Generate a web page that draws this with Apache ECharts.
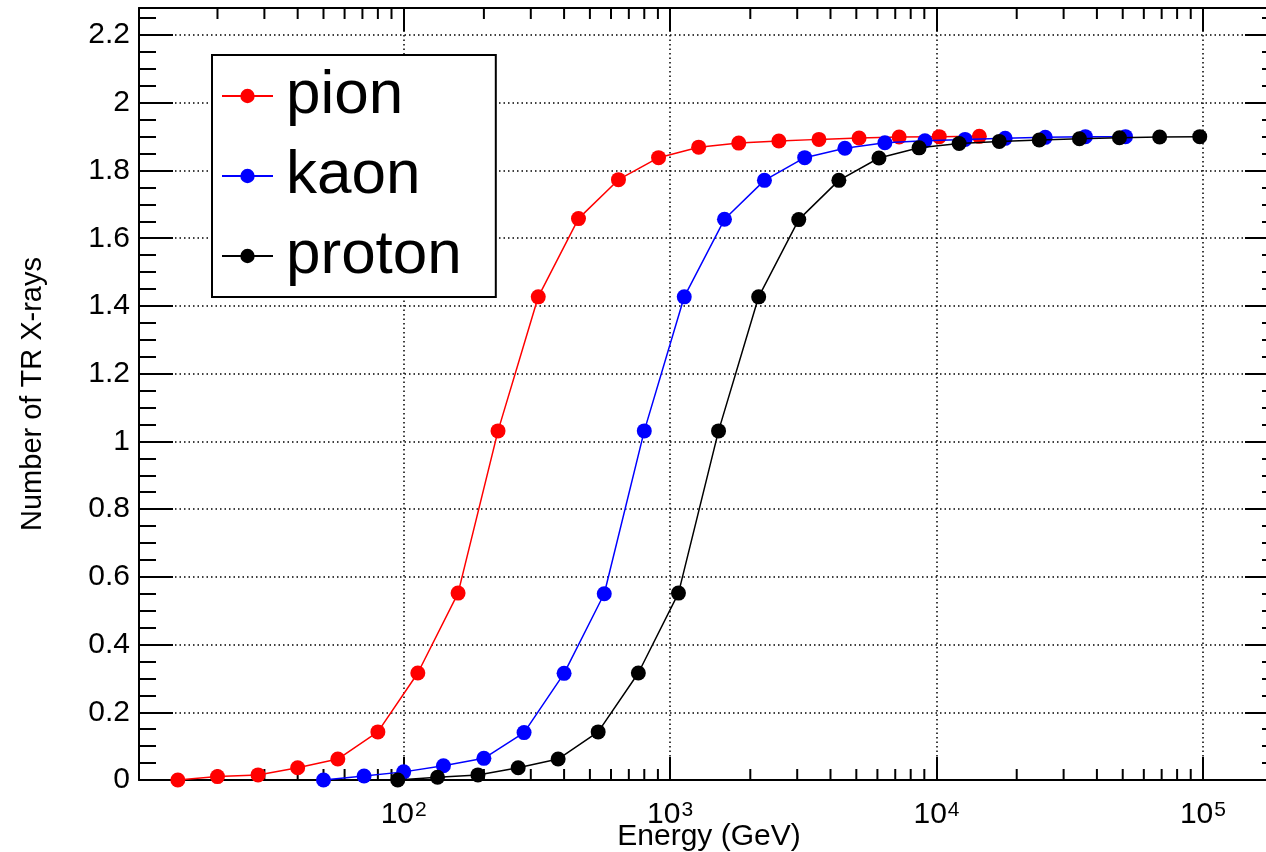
<!DOCTYPE html>
<html><head><meta charset="utf-8">
<script src="https://cdn.jsdelivr.net/npm/echarts@6/dist/echarts.min.js"></script>
<style>html,body{margin:0;padding:0;background:#fff}#c{width:1266px;height:852px}</style>
</head><body><div id="c"></div>
<script>
// ---- data ----
const seriesNames = ['pion', 'kaon', 'proton'];
const pionE = [14.2, 20, 28.4, 40, 56.6, 80, 113, 160, 226, 320, 453, 640, 905, 1280, 1810, 2560, 3620, 5120, 7240, 10240, 14480];
const pionY = [0, 0.01, 0.015, 0.036, 0.062, 0.142, 0.316, 0.552, 1.031, 1.427, 1.658, 1.773, 1.838, 1.869, 1.881, 1.887, 1.892, 1.896, 1.899, 1.900, 1.901];
const kaonE = [50, 71, 100, 141, 200, 283, 400, 566, 800, 1130, 1600, 2260, 3200, 4530, 6400, 9050, 12800, 18100, 25600, 36200, 51200];
const kaonY = [0, 0.012, 0.024, 0.042, 0.064, 0.14, 0.315, 0.55, 1.031, 1.427, 1.656, 1.771, 1.838, 1.866, 1.882, 1.888, 1.892, 1.895, 1.898, 1.9, 1.9];
const protonE = [95, 134, 190, 269, 380, 537, 760, 1075, 1520, 2150, 3040, 4300, 6080, 8600, 12160, 17200, 24300, 34400, 48600, 68800, 97300];
const protonY = [0, 0.008, 0.015, 0.036, 0.062, 0.142, 0.316, 0.552, 1.031, 1.427, 1.655, 1.771, 1.837, 1.867, 1.88, 1.886, 1.89, 1.894, 1.897, 1.899, 1.9];
const xMinorTicks = [20, 30, 40, 50, 60, 70, 80, 90, 200, 300, 400, 500, 600, 700, 800, 900,
  2000, 3000, 4000, 5000, 6000, 7000, 8000, 9000, 20000, 30000, 40000, 50000, 60000, 70000, 80000, 90000];
const X_MIN = 10.15, X_MAX = 193000;
const Y_MIN = 0, Y_MAX = 2.28, Y_STEP = 0.2;

const FONT = 'Liberation Sans, Arial, Helvetica, sans-serif';
const colors = ['#ff0000', '#0000ff', '#000000'];

function pairs(xs, ys) { return xs.map((x, i) => [x, ys[i]]); }

const chart = echarts.init(document.getElementById('c'), null, {renderer: 'canvas'});

function xLabel(v) {
  const l = Math.log10(v), r = Math.round(l);
  if (Math.abs(l - r) > 1e-6) return '';
  return '{b|10}{s|' + r + '}';
}
function yLabel(v) {
  if (Math.abs(v - Y_MAX) < 1e-9) return '';
  return String(+v.toFixed(2));
}

const lineSeries = [pairs(pionE, pionY), pairs(kaonE, kaonY), pairs(protonE, protonY)].map((d, i) => ({
  name: seriesNames[i],
  type: 'line',
  data: d,
  xAxisIndex: 0, yAxisIndex: 0,
  symbol: 'circle', symbolSize: 15,
  showAllSymbol: true,
  color: colors[i],
  lineStyle: {color: colors[i], width: 1.5},
  itemStyle: {color: colors[i]},
  z: 3 + i
}));

const option = {
  animation: false,
  backgroundColor: '#fff',
  grid: {left: 139, right: -13, top: 8, bottom: 72, containLabel: false, outerBoundsMode: 'none'},
  legend: {
    data: seriesNames,
    orient: 'vertical',
    left: 212, top: 55,
    padding: [1, 34, 1, 9],
    itemGap: 0,
    itemWidth: 51, itemHeight: 18,
    borderColor: '#000', borderWidth: 2,
    backgroundColor: '#fff',
    textStyle: {fontFamily: FONT, fontSize: 62, color: '#000', lineHeight: 80, padding: [0, 0, 0, 8]},
    z: 10
  },
  xAxis: [{
    type: 'log', min: X_MIN, max: X_MAX, position: 'bottom',
    name: 'Energy (GeV)', nameLocation: 'middle', nameGap: 42, nameMoveOverlap: false,
    nameTextStyle: {fontFamily: FONT, fontSize: 30, color: '#000'},
    axisLine: {show: true, onZero: false, lineStyle: {color: '#000', width: 2}},
    axisTick: {show: true, inside: true, length: 23, lineStyle: {color: '#000', width: 2}},
    axisLabel: {
      formatter: xLabel, margin: 20, color: '#000',
      rich: {
        b: {fontFamily: FONT, fontSize: 30, color: '#000'},
        s: {fontFamily: FONT, fontSize: 21, color: '#000', verticalAlign: 'top', padding: [0, 0, 0, 1]}
      }
    },
    splitLine: {show: true, lineStyle: {color: '#000', width: 1.5, type: [1.5, 3]}}
  }, {
    type: 'log', min: X_MIN, max: X_MAX, position: 'top',
    axisLine: {show: true, onZero: false, lineStyle: {color: '#000', width: 2}},
    axisTick: {show: true, inside: true, length: 23, lineStyle: {color: '#000', width: 2}},
    axisLabel: {show: false},
    splitLine: {show: false}
  }],
  yAxis: [{
    type: 'value', min: Y_MIN, max: Y_MAX, interval: Y_STEP, position: 'left',
    name: 'Number of TR X-rays', nameLocation: 'middle', nameGap: 92, nameRotate: 90, nameMoveOverlap: false,
    nameTextStyle: {fontFamily: FONT, fontSize: 29, color: '#000'},
    axisLine: {show: true, onZero: false, lineStyle: {color: '#000', width: 2}},
    axisTick: {show: true, inside: true, length: 34, lineStyle: {color: '#000', width: 2}},
    minorTick: {show: true, splitNumber: 4, length: 17, lineStyle: {color: '#000', width: 2}},
    axisLabel: {formatter: yLabel, margin: 9, fontFamily: FONT, fontSize: 30, color: '#000'},
    splitLine: {show: true, lineStyle: {color: '#000', width: 1.5, type: [1.5, 3]}}
  }, {
    type: 'value', min: Y_MIN, max: Y_MAX, interval: Y_STEP, position: 'right',
    axisLine: {show: true, onZero: false, lineStyle: {color: '#000', width: 2}},
    axisTick: {show: true, inside: true, length: 34, lineStyle: {color: '#000', width: 2}},
    minorTick: {show: true, splitNumber: 4, length: 17, lineStyle: {color: '#000', width: 2}},
    axisLabel: {show: false},
    splitLine: {show: false}
  }],
  series: lineSeries.concat([{
    type: 'custom', name: 'xminor', xAxisIndex: 0, yAxisIndex: 0,
    silent: true, clip: false, z: 2,
    data: xMinorTicks.map(v => [v, Y_MIN]),
    renderItem: function (params, api) {
      const x = api.value(0);
      const b = api.coord([x, Y_MIN]);
      const t = api.coord([x, Y_MAX]);
      return {type: 'group', children: [
        {type: 'line', shape: {x1: b[0], y1: b[1], x2: b[0], y2: b[1] - 11}, style: {stroke: '#000', lineWidth: 2}},
        {type: 'line', shape: {x1: t[0], y1: t[1], x2: t[0], y2: t[1] + 11}, style: {stroke: '#000', lineWidth: 2}}
      ]};
    }
  }])
};
chart.setOption(option);
</script></body></html>
